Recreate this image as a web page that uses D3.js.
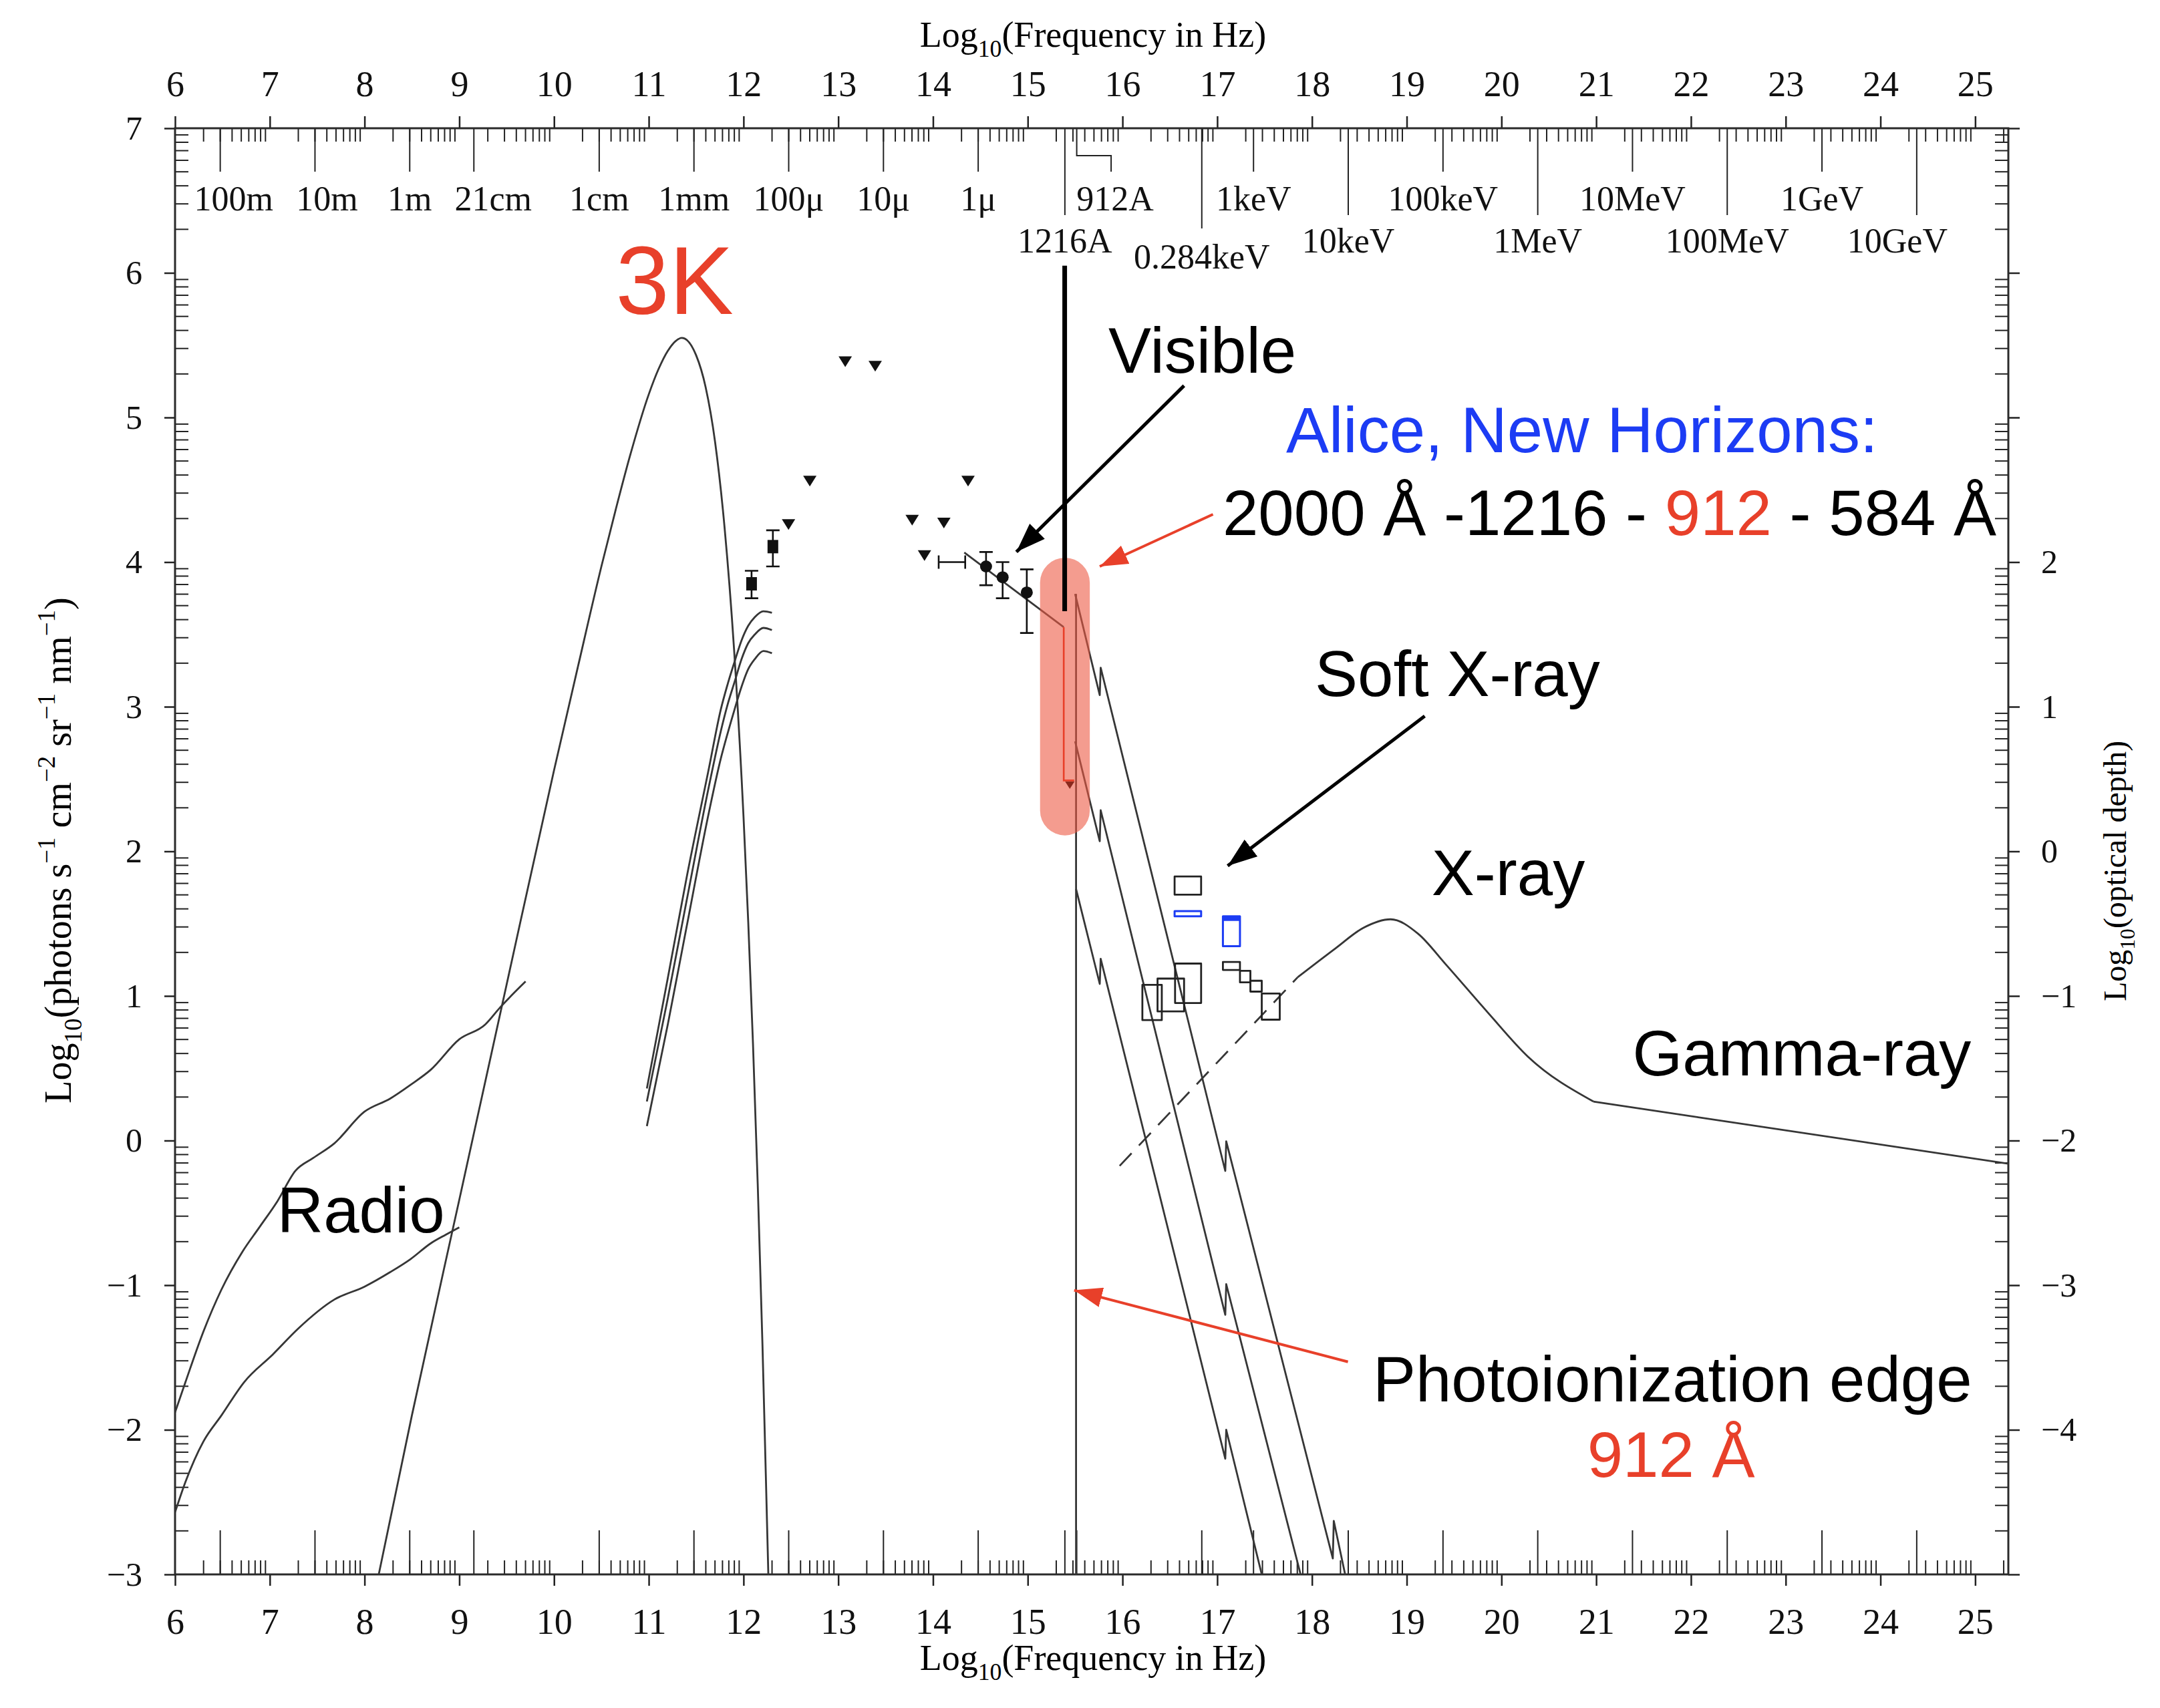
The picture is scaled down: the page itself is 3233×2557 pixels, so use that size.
<!DOCTYPE html>
<html>
<head>
<meta charset="utf-8">
<script src="https://cdn.jsdelivr.net/npm/d3@7"></script>
<style>
  html, body { margin: 0; padding: 0; background: #fff; }
  svg { display: block; }
</style>
</head>
<body>
<div id="chart"></div>
<script>
// ---------- values (log10 units) ----------
const freqTicks = d3.range(6, 26);   // log10(frequency / Hz)
const fluxTicks = d3.range(-3, 8);   // log10(photons s-1 cm-2 sr-1 nm-1)
const depthShift = 2;                // right axis: log10(optical depth) = left - 2

const bandLabels = ['100m', '10m', '1m', '21cm', '1cm', '1mm', '100μ', '10μ', '1μ', '1216A', '912A',
    '0.284keV', '1keV', '10keV', '100keV', '1MeV', '10MeV', '100MeV', '1GeV', '10GeV'];
const bandFreq = [6.477, 7.477, 8.477, 9.154, 10.477, 11.477, 12.477, 13.477, 14.477, 15.392, 15.517,
    16.837, 17.383, 18.383, 19.383, 20.383, 21.383, 22.383, 23.383, 24.383];

// 3K background
const cmbNu = [8.15, 8.5, 9.0, 9.5, 10.0, 10.25, 10.5, 10.65, 10.8, 11.0, 11.1, 11.2, 11.35, 11.5,
    11.6, 11.7, 11.8, 11.9, 12.0, 12.05, 12.1, 12.15, 12.2, 12.25, 12.262];
const cmbVal = [-3.0, -1.9, -0.41, 1.08, 2.56, 3.27, 3.97, 4.36, 4.73, 5.16, 5.33, 5.46, 5.55, 5.43,
    5.21, 4.83, 4.24, 3.4, 2.24, 1.51, 0.67, -0.3, -1.41, -2.69, -3.0];

// radio
const radioHiNu = [6.0, 6.11, 6.3, 6.49, 6.71, 6.89, 7.08, 7.27, 7.46, 7.68, 8.0, 8.27, 8.485, 8.7, 9.0, 9.27, 9.43, 9.7];
const radioHiVal = [-1.88, -1.67, -1.32, -1.03, -0.77, -0.6, -0.42, -0.21, -0.12, -0.02, 0.2, 0.29, 0.385, 0.49, 0.7, 0.8, 0.92, 1.1];
const radioLoNu = [6.0, 6.11, 6.3, 6.49, 6.73, 7.03, 7.3, 7.68, 8.0, 8.27, 8.485, 8.7, 8.86, 9.0];
const radioLoVal = [-2.57, -2.36, -2.08, -1.9, -1.67, -1.48, -1.3, -1.1, -1.01, -0.91, -0.82, -0.71, -0.65, -0.6];

// far-infrared models
const firNu = [10.98, 11.2, 11.4, 11.635, 11.76, 11.83, 11.905, 11.98, 12.05, 12.12, 12.21, 12.3];
const firVal1 = [0.36, 1.12, 1.82, 2.575, 2.98, 3.15, 3.31, 3.46, 3.56, 3.62, 3.66, 3.65];
const firVal2 = [0.27, 0.98, 1.66, 2.45, 2.83, 3.01, 3.17, 3.33, 3.44, 3.5, 3.545, 3.53];
const firVal3 = [0.1, 0.8, 1.48, 2.27, 2.64, 2.81, 2.98, 3.14, 3.26, 3.33, 3.385, 3.37];

// measurements
const sqNu = [12.085, 12.31];
const sqVal = [3.85, 4.107];
const sqLo = [3.75, 3.97];
const sqHi = [3.94, 4.22];

const limNu = [12.475, 12.7, 13.074, 13.39, 13.78, 13.91, 14.115, 14.37];
const limVal = [4.26, 4.56, 5.386, 5.355, 4.29, 4.045, 4.27, 4.56];

const dotNu = [14.56, 14.735, 14.99];
const dotVal = [3.97, 3.895, 3.79];
const dotLo = [3.84, 3.75, 3.51];
const dotHi = [4.07, 4.0, 3.95];

const barNuLo = [14.06];
const barNuHi = [14.34];
const barVal = [4.0];

const opticalNu = [14.33, 15.38];
const opticalVal = [4.066, 3.55];
const uvRedNu = [15.38, 15.38, 15.49];
const uvRedVal = [3.55, 2.49, 2.49];
const uvLimNu = [15.444];
const uvLimVal = [2.46];

// ionising continuum (three columns) and the 912 A edge
const edgeNu = [15.51, 15.51];
const edgeVal = [3.78, -3.0];
const euv1Nu = [15.5, 15.76, 15.77, 17.085, 17.095, 18.22, 18.23, 18.35];
const euv1Val = [3.78, 3.08, 3.27, -0.21, -0.005, -2.89, -2.63, -3.0];
const euv2Nu = [15.5, 15.76, 15.77, 17.085, 17.095, 17.88];
const euv2Val = [2.76, 2.07, 2.284, -1.205, -0.993, -3.0];
const euv3Nu = [15.51, 15.76, 15.77, 17.085, 17.095, 17.47];
const euv3Val = [1.74, 1.083, 1.257, -2.2, -2.0, -3.0];

// soft X-ray boxes [nu0, nu1, v0, v1]
const xrayBoxes = [
    [16.55, 16.83, 1.70, 1.826],
    [16.555, 16.83, 0.951, 1.224],
    [16.37, 16.65, 0.893, 1.12],
    [16.21, 16.415, 0.833, 1.077],
    [17.06, 17.24, 1.18, 1.235],
    [17.24, 17.35, 1.094, 1.174],
    [17.35, 17.47, 1.03, 1.105],
    [17.47, 17.66, 0.836, 1.017]
];
const xrayBoxesBlue = [
    [16.55, 16.83, 1.551, 1.587],
    [17.06, 17.24, 1.344, 1.551]
];

// X-ray / gamma-ray background
const extrapNu = [15.97, 17.85];
const extrapVal = [-0.175, 1.13];
const gammaNu = [17.85, 18.25, 18.54, 18.83, 19.12, 19.41, 19.85, 20.28, 20.97, 25.35];
const gammaVal = [1.13, 1.33, 1.47, 1.53, 1.43, 1.22, 0.89, 0.58, 0.27, -0.16];
const gammaKnee = 20.97;

// ---------- layout ----------
const W = 3233, H = 2557;
const margin = {top: 192, left: 262, right: 227, bottom: 200};
const serif = '"Liberation Serif", "Times New Roman", serif';
const sans = '"Liberation Sans", Arial, Helvetica, sans-serif';
const ink = '#363636', red = '#e8402a', blue = '#1c3cf4';

const x = d3.scaleLinear().domain([6, 25.35]).range([margin.left, W - margin.right]);
const y = d3.scaleLinear().domain([-3, 7]).range([H - margin.bottom, margin.top]);
const x0 = x.range()[0], x1 = x.range()[1], yTop = y.range()[1], yBot = y.range()[0];

const svg = d3.select('#chart').append('svg')
    .attr('width', W).attr('height', H)
    .attr('viewBox', [0, 0, W, H].join(' '));

const defs = svg.append('defs');
defs.append('clipPath').attr('id', 'plot')
    .append('rect').attr('x', x0).attr('y', yTop).attr('width', x1 - x0).attr('height', yBot - yTop);
function head(id, color, len, wid) {
    defs.append('marker').attr('id', id)
        .attr('markerUnits', 'userSpaceOnUse')
        .attr('markerWidth', len).attr('markerHeight', wid)
        .attr('refX', len).attr('refY', wid / 2)
        .attr('orient', 'auto')
        .append('path').attr('d', `M0,0L${len},${wid / 2}L0,${wid}Z`).attr('fill', color);
}
head('headBlack', '#000', 44, 32);
head('headRed', red, 42, 30);

// ---------- axes ----------
const axisStyle = g => g
    .attr('font-family', serif).attr('font-size', 54)
    .call(g => g.select('.domain').remove())
    .call(g => g.selectAll('.tick line').attr('stroke', '#222').attr('stroke-width', 2.5))
    .call(g => g.selectAll('.tick text').attr('fill', '#111'));

svg.append('g').attr('transform', `translate(0,${yBot})`)
    .call(d3.axisBottom(x).tickValues(freqTicks).tickSize(17).tickSizeOuter(0).tickPadding(34))
    .call(axisStyle);
svg.append('g').attr('transform', `translate(0,${yTop})`)
    .call(d3.axisTop(x).tickValues(freqTicks).tickSize(18).tickSizeOuter(0).tickPadding(30))
    .call(axisStyle);
svg.append('g').attr('transform', `translate(${x0},0)`)
    .call(d3.axisLeft(y).tickValues(fluxTicks).tickSize(16).tickSizeOuter(0).tickPadding(33)
        .tickFormat(v => (v < 0 ? '\u2212' : '') + Math.abs(v)))
    .call(axisStyle).attr('font-size', 50);
svg.append('g').attr('transform', `translate(${x1},0)`)
    .call(d3.axisRight(y).tickValues(fluxTicks).tickSize(17).tickSizeOuter(0).tickPadding(32)
        .tickFormat(v => {
            const d = v - depthShift;
            if (d > 2 || d < -4) return '';
            return (d < 0 ? '\u2212' : '') + Math.abs(d);
        }))
    .call(axisStyle).attr('font-size', 50);

// minor ticks (log-spaced inside each unit)
const minorX = [], minorY = [];
freqTicks.forEach(n => d3.range(2, 10).forEach(k => {
    const v = n + Math.log10(k);
    if (v < 25.35) minorX.push(v);
}));
fluxTicks.slice(0, -1).forEach(n => d3.range(2, 10).forEach(k => minorY.push(n + Math.log10(k))));

const ticks = svg.append('g').attr('stroke', '#222').attr('stroke-width', 2);
ticks.selectAll('.mxb').data(minorX).join('line')
    .attr('x1', d => x(d)).attr('x2', d => x(d)).attr('y1', yBot).attr('y2', yBot - 21);
ticks.selectAll('.mxt').data(minorX).join('line')
    .attr('x1', d => x(d)).attr('x2', d => x(d)).attr('y1', yTop).attr('y2', yTop + 20);
ticks.selectAll('.myl').data(minorY).join('line')
    .attr('y1', d => y(d)).attr('y2', d => y(d)).attr('x1', x0).attr('x2', x0 + 20);
ticks.selectAll('.myr').data(minorY).join('line')
    .attr('y1', d => y(d)).attr('y2', d => y(d)).attr('x1', x1).attr('x2', x1 - 20);

// wavelength / energy band ticks
const bands = bandLabels.map((l, i) => ({label: l, nu: bandFreq[i]}));
const lowRow = ['1216A', '10keV', '1MeV', '100MeV', '10GeV'];
const rowOf = l => l === '0.284keV' ? 3 : (lowRow.includes(l) ? 2 : 1);
const tickLen = {1: 65, 2: 130, 3: 150};
const labelBase = {1: 315, 2: 378, 3: 402};
const labelShift = {'100m': 20, '10m': 18, '21cm': 29, '10GeV': -29};

ticks.selectAll('.bb').data(bands).join('line')
    .attr('x1', d => x(d.nu)).attr('x2', d => x(d.nu)).attr('y1', yBot).attr('y2', yBot - 66)
    .attr('stroke-width', 2);
ticks.selectAll('.bt').data(bands.filter(d => d.label !== '912A')).join('line')
    .attr('x1', d => x(d.nu)).attr('x2', d => x(d.nu))
    .attr('y1', yTop).attr('y2', d => yTop + tickLen[rowOf(d.label)])
    .attr('stroke-width', 2);
const lyc = bands.find(d => d.label === '912A');
const lycEnd = x(15.88);
ticks.append('path').attr('fill', 'none').attr('stroke-width', 2)
    .attr('d', `M${x(lyc.nu)},${yTop}V${yTop + 41}H${lycEnd}V${yTop + 65}`);

svg.append('g').attr('font-family', serif).attr('font-size', 52).attr('fill', '#111')
    .selectAll('text').data(bands).join('text')
    .attr('text-anchor', 'middle')
    .attr('x', d => d.label === '912A' ? lycEnd + 6 : x(d.nu) + (labelShift[d.label] || 0))
    .attr('y', d => labelBase[rowOf(d.label)])
    .text(d => d.label);

// frame
svg.append('rect').attr('x', x0).attr('y', yTop).attr('width', x1 - x0).attr('height', yBot - yTop)
    .attr('fill', 'none').attr('stroke', '#2a2a2a').attr('stroke-width', 3);

// axis titles with sub/superscripts
function rich(sel, parts, size) {
    let shift = 0;
    parts.forEach(([t, kind]) => {
        const target = kind === 1 ? 0.28 * size : kind === 2 ? -0.42 * size : 0;
        sel.append('tspan')
            .attr('font-size', kind ? size * 0.66 : size)
            .attr('dy', target - shift)
            .text(t);
        shift = target;
    });
}
const freqTitle = [['Log', 0], ['10', 1], ['(Frequency in Hz)', 0]];
rich(svg.append('text').attr('font-family', serif).attr('text-anchor', 'middle')
    .attr('x', 1636).attr('y', 70), freqTitle, 54);
rich(svg.append('text').attr('font-family', serif).attr('text-anchor', 'middle')
    .attr('x', 1636).attr('y', 2500), freqTitle, 54);
rich(svg.append('text').attr('font-family', serif).attr('text-anchor', 'middle')
    .attr('transform', 'translate(106,1273) rotate(-90)'),
    [['Log', 0], ['10', 1], ['(photons s', 0], ['\u22121', 2], [' cm', 0], ['\u22122', 2],
        [' sr', 0], ['\u22121', 2], [' nm', 0], ['\u22121', 2], [')', 0]], 56);
rich(svg.append('text').attr('font-family', serif).attr('text-anchor', 'middle')
    .attr('transform', 'translate(3182,1304) rotate(-90)'),
    [['Log', 0], ['10', 1], ['(optical depth)', 0]], 48);

// ---------- data ----------
const zip = (a, b) => a.map((v, i) => [v, b[i]]);
const smooth = d3.line().x(d => x(d[0])).y(d => y(d[1])).curve(d3.curveMonotoneX);
const straight = d3.line().x(d => x(d[0])).y(d => y(d[1]));

const plot = svg.append('g').attr('clip-path', 'url(#plot)')
    .attr('fill', 'none').attr('stroke', ink).attr('stroke-width', 2.8).attr('stroke-linejoin', 'round');

const gamma = zip(gammaNu, gammaVal);
[zip(cmbNu, cmbVal), zip(radioHiNu, radioHiVal), zip(radioLoNu, radioLoVal),
    zip(firNu, firVal1), zip(firNu, firVal2), zip(firNu, firVal3),
    gamma.filter(d => d[0] <= gammaKnee)]
    .forEach(s => plot.append('path').attr('d', smooth(s)));
[zip(edgeNu, edgeVal), zip(euv1Nu, euv1Val), zip(euv2Nu, euv2Val), zip(euv3Nu, euv3Val),
    zip(opticalNu, opticalVal), gamma.filter(d => d[0] >= gammaKnee)]
    .forEach(s => plot.append('path').attr('d', straight(s)));
plot.append('path').attr('d', straight(zip(extrapNu, extrapVal))).attr('stroke-dasharray', '26,16');

// boxes
plot.selectAll('.box').data(xrayBoxes).join('rect')
    .attr('x', d => x(d[0])).attr('y', d => y(d[3]))
    .attr('width', d => x(d[1]) - x(d[0])).attr('height', d => y(d[2]) - y(d[3]))
    .attr('stroke', '#222');
plot.selectAll('.bbox').data(xrayBoxesBlue).join('rect')
    .attr('x', d => x(d[0])).attr('y', d => y(d[3]))
    .attr('width', d => x(d[1]) - x(d[0])).attr('height', d => y(d[2]) - y(d[3]))
    .attr('stroke', blue).attr('stroke-width', 3);
plot.selectAll('.btop').data(xrayBoxesBlue.slice(1)).join('rect')
    .attr('x', d => x(d[0])).attr('y', d => y(d[3]))
    .attr('width', d => x(d[1]) - x(d[0])).attr('height', 7)
    .attr('fill', blue).attr('stroke', 'none');

// markers with error bars
const marks = svg.append('g').attr('fill', '#111').attr('stroke', '#111').attr('stroke-width', 2.6);
function errorBars(nu, lo, hi) {
    nu.forEach((n, i) => {
        const cx = x(n);
        marks.append('path').attr('fill', 'none')
            .attr('d', `M${cx},${y(lo[i])}V${y(hi[i])}M${cx - 10},${y(lo[i])}h20M${cx - 10},${y(hi[i])}h20`);
    });
}
errorBars(sqNu, sqLo, sqHi);
errorBars(dotNu, dotLo, dotHi);
marks.selectAll('.sq').data(zip(sqNu, sqVal)).join('rect')
    .attr('x', d => x(d[0]) - 8).attr('y', d => y(d[1]) - 10).attr('width', 16).attr('height', 20)
    .attr('stroke', 'none');
marks.selectAll('.dot').data(zip(dotNu, dotVal)).join('circle')
    .attr('cx', d => x(d[0])).attr('cy', d => y(d[1])).attr('r', 9).attr('stroke', 'none');
marks.selectAll('.lim').data(zip(limNu, limVal)).join('path')
    .attr('d', d => `M${x(d[0]) - 10},${y(d[1]) - 8}h20l-10,16Z`).attr('stroke', 'none');
barNuLo.forEach((n, i) => {
    const yy = y(barVal[i]);
    marks.append('path').attr('fill', 'none')
        .attr('d', `M${x(n)},${yy}H${x(barNuHi[i])}M${x(n)},${yy - 10}v20M${x(barNuHi[i])},${yy - 10}v20`);
});

// Alice band highlight
const band = {nu0: 15.13, nu1: 15.655, top: 4.03, bottom: 2.11};
svg.append('rect')
    .attr('x', x(band.nu0)).attr('y', y(band.top))
    .attr('width', x(band.nu1) - x(band.nu0)).attr('height', y(band.bottom) - y(band.top))
    .attr('rx', (x(band.nu1) - x(band.nu0)) / 2)
    .attr('fill', '#ec5a45').attr('opacity', 0.6);

svg.append('path').attr('d', straight(zip(uvRedNu, uvRedVal)))
    .attr('fill', 'none').attr('stroke', red).attr('stroke-width', 2.6);
svg.selectAll('.ulim').data(zip(uvLimNu, uvLimVal)).join('path')
    .attr('d', d => `M${x(d[0]) - 7},${y(d[1]) - 5}h14l-7,11Z`).attr('fill', '#8a2a1e');

// Lyman-alpha marker line
const lya = {nu: 15.39, top: 6.05, bottom: 3.66};
svg.append('line').attr('x1', x(lya.nu)).attr('x2', x(lya.nu))
    .attr('y1', y(lya.top)).attr('y2', y(lya.bottom))
    .attr('stroke', '#000').attr('stroke-width', 7);

// ---------- annotations ----------
const arrows = [
    {from: [16.65, 5.22], to: [14.88, 4.07], color: '#000', marker: 'headBlack', w: 5},
    {from: [19.19, 2.935], to: [17.11, 1.9], color: '#000', marker: 'headBlack', w: 5},
    {from: [16.955, 4.33], to: [15.76, 3.97], color: red, marker: 'headRed', w: 4},
    {from: [18.38, -1.53], to: [15.49, -1.035], color: red, marker: 'headRed', w: 4}
];
svg.selectAll('.arrow').data(arrows).join('line')
    .attr('x1', d => x(d.from[0])).attr('y1', d => y(d.from[1]))
    .attr('x2', d => x(d.to[0])).attr('y2', d => y(d.to[1]))
    .attr('stroke', d => d.color).attr('stroke-width', d => d.w)
    .attr('marker-end', d => `url(#${d.marker})`);

const notes = [
    {parts: [['3K', red]], at: [10.651, 5.716], size: 144},
    {parts: [['Visible', '#000']], at: [15.852, 5.309], size: 96},
    {parts: [['Alice, New Horizons:', blue]], at: [17.727, 4.76], size: 96},
    {parts: [['2000 Å -1216 - ', '#000'], ['912', red], [' - 584 Å', '#000']], at: [17.057, 4.187], size: 96},
    {parts: [['Soft X-ray', '#000']], at: [18.03, 3.074], size: 96},
    {parts: [['X-ray', '#000']], at: [19.263, 1.697], size: 96},
    {parts: [['Gamma-ray', '#000']], at: [21.384, 0.45], size: 96},
    {parts: [['Radio', '#000']], at: [7.078, -0.635], size: 96},
    {parts: [['Photoionization edge', '#000']], at: [18.643, -1.804], size: 96},
    {parts: [['912 Å', red]], at: [20.905, -2.326], size: 96}
];
notes.forEach(n => {
    const t = svg.append('text').attr('font-family', sans).attr('font-size', n.size)
        .attr('x', x(n.at[0])).attr('y', y(n.at[1]));
    n.parts.forEach(([s, c]) => t.append('tspan').attr('fill', c).text(s));
});
</script>
</body>
</html>
